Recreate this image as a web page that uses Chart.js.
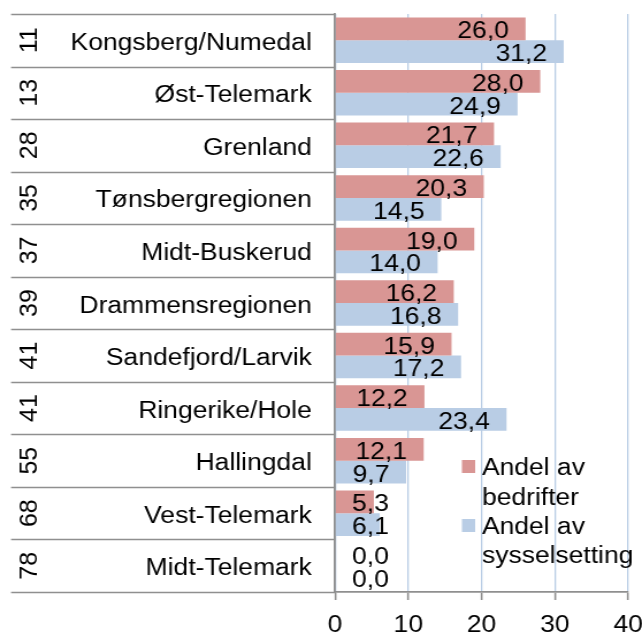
<!DOCTYPE html>
<html>
<head>
<meta charset="utf-8">
<script src="https://cdn.jsdelivr.net/npm/chart.js@4.4.1/dist/chart.umd.min.js"></script>
<style>
  html, body { margin: 0; padding: 0; background: #fff; overflow: hidden; }
  /* drawn narrow and widened, so the Arial-style text gets the same broad look */
  #chart { display: block; transform: scaleX(1.1505); transform-origin: 0 0; }
</style>
</head>
<body>
<canvas id="chart" width="558" height="634"></canvas>
<script>
// regions, their rank and the two shares (%)
var regions = ["Kongsberg/Numedal", "Øst-Telemark", "Grenland", "Tønsbergregionen", "Midt-Buskerud",
  "Drammensregionen", "Sandefjord/Larvik", "Ringerike/Hole", "Hallingdal", "Vest-Telemark", "Midt-Telemark"];
var ranks = [11, 13, 28, 35, 37, 39, 41, 41, 55, 68, 78];
var bedrifter = [26.0, 28.0, 21.7, 20.3, 19.0, 16.2, 15.9, 12.2, 12.1, 5.3, 0.0];
var sysselsetting = [31.2, 24.9, 22.6, 14.5, 14.0, 16.8, 17.2, 23.4, 9.7, 6.1, 0.0];
var xTicks = [0, 10, 20, 30, 40];
var seriesNames = [["Andel av", "bedrifter"], ["Andel av", "sysselsetting"]];

var RED = "#d99694";
var BLUE = "#b9cde5";
var FONT = "23px 'Liberation Sans', Arial, sans-serif";

function fmt(v) {
  return v.toFixed(1).replace(".", ",");
}

// rank + region table left of the axis
var tablePlugin = {
  id: "regionTable",
  afterDraw: function (chart) {
    var ctx = chart.ctx, y = chart.scales.y, area = chart.chartArea;
    var step = (area.bottom - area.top) / regions.length;
    ctx.save();
    ctx.strokeStyle = "#8f8f8f";
    ctx.lineWidth = 1.6;
    for (var i = 0; i <= regions.length; i++) {
      var ly = Math.round(area.top + i * step) + 0.5;
      ctx.beginPath();
      ctx.moveTo(9.6, ly);
      ctx.lineTo(area.left, ly);
      ctx.stroke();
    }
    ctx.fillStyle = "#000";
    regions.forEach(function (name, i) {
      var cy = y.getPixelForValue(i);
      ctx.font = FONT;
      ctx.textAlign = "right";
      ctx.textBaseline = "alphabetic";
      ctx.fillText(name, 271, cy + 9.5);

      // rank, rotated to read upwards
      ctx.save();
      ctx.translate(32.4, cy);
      ctx.rotate(-Math.PI / 2);
      ctx.scale(1, 0.875);
      ctx.font = "25px 'Liberation Sans', Arial, sans-serif";
      ctx.textAlign = "center";
      ctx.fillText(String(ranks[i]), 0, 0);
      ctx.restore();
    });
    ctx.restore();
  }
};

// value labels at the inner end of each bar
var valuePlugin = {
  id: "valueLabels",
  afterDatasetsDraw: function (chart) {
    var ctx = chart.ctx, x0 = chart.scales.x.getPixelForValue(0);
    ctx.save();
    ctx.font = FONT;
    ctx.fillStyle = "#000";
    ctx.textAlign = "right";
    ctx.textBaseline = "alphabetic";
    chart.data.datasets.forEach(function (ds, d) {
      chart.getDatasetMeta(d).data.forEach(function (bar, i) {
        var txt = fmt(ds.data[i]);
        var w = ctx.measureText(txt).width;
        var right = Math.max(bar.x - 14.5, x0 + 14.8 + w);
        ctx.fillText(txt, right, bar.y + 9.5);
      });
    });
    ctx.restore();
  }
};

// two-line legend inside the plot, lower right
var legendPlugin = {
  id: "wrapLegend",
  afterDraw: function (chart) {
    var ctx = chart.ctx;
    var colors = [RED, BLUE];
    var baselines = [[475, 505], [534, 563]];
    ctx.save();
    ctx.font = FONT;
    ctx.fillStyle = "#000";
    ctx.textAlign = "left";
    ctx.textBaseline = "alphabetic";
    seriesNames.forEach(function (lines, k) {
      ctx.fillStyle = colors[k];
      ctx.fillRect(401.5, baselines[k][0] - 15, 11.5, 13);
      ctx.fillStyle = "#000";
      lines.forEach(function (t, j) {
        ctx.fillText(t, 418.9, baselines[k][j]);
      });
    });
    ctx.restore();
  }
};

new Chart(document.getElementById("chart"), {
  type: "bar",
  data: {
    labels: regions,
    datasets: [
      { label: "Andel av bedrifter", data: bedrifter, backgroundColor: RED },
      { label: "Andel av sysselsetting", data: sysselsetting, backgroundColor: BLUE }
    ]
  },
  options: {
    indexAxis: "y",
    responsive: false,
    animation: false,
    devicePixelRatio: 1,
    layout: { padding: { top: 14, right: 3, left: 0, bottom: 0 } },
    datasets: { bar: { categoryPercentage: 0.866, barPercentage: 1.0 } },
    scales: {
      x: {
        min: 0,
        max: 40,
        afterBuildTicks: function (s) { s.ticks = xTicks.map(function (v) { return { value: v }; }); },
        afterFit: function (s) { s.height = 42; s.paddingRight = 12; },
        grid: { color: BLUE, lineWidth: 1.3, tickColor: "#8f8f8f", tickLength: 8, tickWidth: 1.6 },
        border: { color: "#8f8f8f", width: 1.8 },
        ticks: { color: "#000", font: { family: "'Liberation Sans', Arial, sans-serif", size: 23 }, padding: 12, maxRotation: 0 }
      },
      y: {
        afterFit: function (s) { s.width = 291.2; },
        grid: { display: false },
        border: { color: "#8f8f8f", width: 1.8 },
        ticks: { display: false }
      }
    },
    plugins: {
      legend: { display: false },
      tooltip: { enabled: false }
    }
  },
  plugins: [tablePlugin, valuePlugin, legendPlugin]
});
</script>
</body>
</html>
